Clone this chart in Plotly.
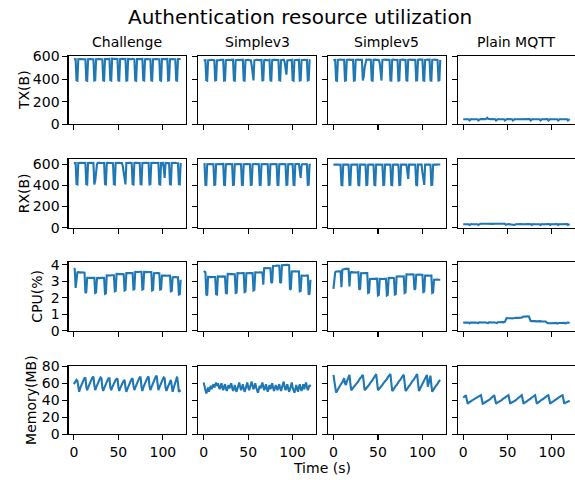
import plotly.graph_objects as go
from plotly.subplots import make_subplots

time_s = list(range(121))
columns = ["Challenge", "Simplev3", "Simplev5", "Plain MQTT"]
metrics = ["TX(B)", "RX(B)", "CPU(%)", "Memory(MB)"]

# ---- TX (bytes) ----
tx_challenge = [575,578,576,390,386,575,577,576,575,578,576,575,577,576,388,385,576,578,575,577,
    576,578,575,387,390,576,578,577,575,578,576,577,575,388,386,577,579,576,578,577,
    579,390,387,580,578,582,579,578,580,577,388,386,578,580,582,579,577,580,578,387,
    389,579,577,580,578,576,579,577,575,388,385,577,579,576,578,577,575,578,390,387,
    576,578,575,577,576,578,575,388,386,576,578,577,575,578,576,577,575,389,386,577,
    579,576,578,577,575,578,387,390,576,578,575,577,576,578,575,388,386,577,579,576,
    578]
tx_simplev3 = [565,570,568,390,386,565,570,568,571,569,567,570,568,388,390,566,569,571,568,570,
    569,567,570,387,389,568,570,569,571,568,570,567,569,571,388,386,568,570,569,571,
    568,570,567,569,571,389,387,568,570,569,571,568,570,567,520,460,388,566,570,568,
    571,569,567,570,568,569,388,390,567,570,568,571,569,567,570,388,386,568,570,569,
    571,568,570,567,569,390,387,568,570,569,571,550,500,440,565,568,570,569,567,570,
    389,386,568,570,569,571,568,570,387,390,567,570,568,571,569,567,570,388,392,567,
    570]
tx_simplev5 = [568,572,570,388,385,569,572,570,573,571,569,572,570,387,389,570,572,571,573,570,
    572,569,571,386,388,570,572,571,573,570,572,569,571,387,420,500,560,572,571,573,
    570,572,569,388,386,570,572,571,573,570,572,569,540,470,387,570,572,571,573,570,
    572,569,571,570,388,386,571,573,570,572,569,571,570,387,389,570,572,571,573,570,
    572,569,388,386,570,572,571,573,570,572,569,571,570,387,389,570,572,571,573,570,
    572,389,387,570,572,571,573,570,572,388,386,570,572,571,573,570,572,569,387,390,
    570]
tx_plain = [45,45,46,45,45,46,45,34,45,46,45,45,46,45,45,46,45,34,45,45,
    46,45,45,46,45,46,50,58,49,46,45,45,46,45,45,46,45,34,45,46,
    45,45,46,45,45,46,45,34,45,45,46,45,45,46,45,45,34,45,46,45,
    45,46,45,45,46,45,45,46,45,46,45,45,46,45,45,46,34,45,46,45,
    45,46,45,45,46,45,45,34,45,46,45,45,46,45,45,46,34,45,46,45,
    45,46,45,45,46,45,45,34,45,46,45,45,46,45,45,46,45,45,34,45,
    46]

# ---- RX (bytes) ----
rx_challenge = [610,613,611,412,408,611,613,612,610,613,611,612,610,613,410,407,611,613,612,610,
    613,611,612,409,440,520,600,612,613,611,612,610,613,611,612,410,408,611,613,612,
    610,613,611,612,610,411,408,611,613,612,610,613,611,612,610,580,520,460,409,612,
    613,611,612,610,613,611,410,407,611,613,612,610,613,611,612,410,408,612,613,611,
    612,610,613,611,612,409,411,611,613,612,610,613,611,612,610,613,410,407,611,613,
    612,560,470,612,613,611,612,610,410,408,611,613,612,610,613,611,612,610,410,408,
    612]
rx_simplev3 = [598,601,405,403,600,602,601,599,602,600,601,599,404,406,600,602,601,599,602,600,
    601,599,602,405,403,600,602,601,599,602,600,601,599,404,406,600,602,601,599,602,
    600,601,599,405,403,600,602,601,599,602,600,601,599,404,406,600,602,601,599,602,
    600,601,599,405,403,600,602,601,599,602,600,601,599,404,406,600,602,601,599,602,
    600,601,599,405,403,600,602,601,599,602,600,601,599,404,406,600,602,601,599,602,
    600,405,403,600,602,601,599,602,540,470,590,601,599,602,600,601,599,404,406,600,
    592]
rx_simplev5 = [596,597,596,595,597,596,597,595,596,404,402,596,597,595,597,596,597,595,403,405,
    596,597,595,597,596,597,595,596,404,402,596,597,595,597,596,597,595,403,405,596,
    597,595,597,596,597,595,404,402,596,597,595,597,596,597,595,596,403,405,596,597,
    595,597,596,597,595,404,402,596,597,595,597,596,597,595,403,405,596,597,595,597,
    596,597,595,540,460,596,597,595,597,596,597,595,596,404,402,596,597,595,597,596,
    520,450,404,596,597,595,597,596,597,595,403,405,596,597,595,597,596,597,595,596,
    597]
rx_plain = [32,33,32,33,32,33,32,25,32,33,32,33,32,33,32,33,32,25,33,35,
    36,35,36,36,35,36,37,36,35,36,36,35,36,36,35,36,37,36,35,36,
    36,35,36,36,35,36,35,36,26,33,32,33,32,33,32,33,32,33,25,32,
    33,32,33,32,33,32,33,32,33,32,33,32,33,32,33,32,33,25,32,33,
    32,33,32,33,32,33,32,25,32,33,32,33,32,33,32,33,32,33,25,32,
    33,32,33,32,33,32,33,25,32,33,32,33,32,33,32,33,32,33,25,32,
    33]

# ---- CPU (%) ----
cpu_challenge = [3.80,3.75,2.60,2.95,3.55,3.56,3.54,3.55,3.53,3.55,3.54,3.52,3.53,2.30,2.35,3.22,3.21,3.23,3.22,3.21,
    3.22,3.20,3.21,3.22,2.30,2.33,3.20,3.21,3.19,3.20,3.21,3.20,3.19,3.20,3.21,2.25,2.28,3.37,3.36,3.38,
    3.37,3.36,3.37,3.38,3.36,3.37,2.40,2.42,3.45,3.44,3.46,3.45,3.44,3.45,3.46,3.45,3.44,2.45,2.48,3.50,
    3.51,3.50,3.52,3.50,3.51,3.50,3.51,2.50,2.52,3.58,3.57,3.59,3.58,3.57,3.58,3.59,3.58,2.50,2.53,3.57,
    3.56,3.58,3.57,3.56,3.57,3.58,3.56,3.57,2.45,2.48,3.50,3.51,3.49,3.50,3.51,3.50,3.49,2.50,2.52,3.35,
    3.36,3.34,3.35,3.36,3.34,3.35,3.36,3.34,3.35,2.40,2.42,3.25,3.26,3.24,3.25,3.26,3.24,3.25,2.20,2.22,
    3.10]
cpu_simplev3 = [3.62,3.60,3.56,2.20,2.15,3.27,3.26,3.28,3.27,3.26,3.27,3.28,3.26,3.27,2.22,2.20,3.30,3.29,3.31,3.30,
    3.29,3.30,3.31,3.30,3.29,2.30,2.28,3.45,3.44,3.46,3.45,3.44,3.45,3.46,3.45,3.44,2.30,2.32,3.50,3.49,
    3.51,3.50,3.49,3.50,3.51,3.50,2.35,2.38,3.50,3.51,3.49,3.50,3.51,3.50,3.49,3.50,2.45,2.48,3.55,3.54,
    3.56,3.55,3.54,3.55,3.56,3.55,3.54,2.80,3.80,3.81,3.79,3.80,3.81,3.80,3.79,3.80,2.90,2.95,3.93,3.95,
    3.94,3.95,3.96,3.95,3.94,3.95,2.90,2.95,3.98,3.99,4.00,3.99,3.98,3.99,4.00,3.99,3.98,2.50,2.55,3.60,
    3.61,3.59,3.60,3.61,3.60,3.59,3.60,3.61,2.40,2.42,3.35,3.34,3.36,3.35,3.34,3.35,3.36,3.35,2.20,2.25,
    3.10]
cpu_simplev5 = [2.55,3.05,3.55,3.60,3.61,3.59,3.60,3.61,3.60,2.65,3.70,3.75,3.74,3.76,3.75,3.74,3.75,3.76,2.70,3.55,
    3.56,3.55,3.54,3.55,3.56,3.55,3.54,3.55,3.56,2.50,2.55,3.50,3.51,3.49,3.50,3.51,3.50,3.49,3.50,2.30,
    2.33,3.15,3.16,3.14,3.15,3.16,3.15,3.14,3.15,3.16,2.15,2.18,3.15,3.14,3.16,3.15,3.14,3.15,3.16,3.15,
    2.15,2.18,3.20,3.21,3.19,3.20,3.21,3.20,3.19,2.20,2.22,3.30,3.31,3.29,3.30,3.31,3.30,3.29,3.30,3.31,
    2.30,2.33,3.43,3.42,3.44,3.43,3.42,3.43,3.44,3.43,3.42,2.50,2.55,3.40,3.41,3.39,3.40,3.41,3.40,3.39,
    3.40,2.35,2.38,3.35,3.36,3.34,3.35,3.36,3.34,3.35,3.36,2.30,2.33,3.10,3.11,3.09,3.10,3.11,3.10,3.09,
    3.10]
cpu_plain = [0.50,0.51,0.50,0.51,0.50,0.51,0.50,0.46,0.51,0.50,0.51,0.50,0.51,0.50,0.51,0.50,0.51,0.47,0.52,0.51,
    0.52,0.51,0.52,0.51,0.52,0.51,0.52,0.51,0.47,0.52,0.51,0.52,0.51,0.52,0.51,0.52,0.51,0.52,0.47,0.52,
    0.53,0.52,0.53,0.52,0.53,0.52,0.53,0.55,0.68,0.78,0.77,0.78,0.77,0.78,0.77,0.76,0.78,0.77,0.78,0.79,
    0.78,0.79,0.80,0.79,0.80,0.78,0.80,0.86,0.87,0.86,0.87,0.88,0.87,0.88,0.87,0.70,0.60,0.59,0.60,0.59,
    0.58,0.59,0.58,0.59,0.58,0.59,0.58,0.59,0.58,0.57,0.58,0.57,0.58,0.57,0.50,0.46,0.47,0.46,0.47,0.48,
    0.47,0.48,0.47,0.48,0.47,0.48,0.44,0.48,0.49,0.48,0.49,0.48,0.49,0.48,0.49,0.45,0.49,0.50,0.49,0.50,
    0.50]

# ---- Memory (MB) ----
mem_challenge = [59,61,62,64,63,55,50,54,57,60,62,64,66,67,56,52,55,58,61,63,
    65,67,68,58,52,55,58,61,63,65,67,66,55,51,54,57,60,62,64,66,
    66,55,52,55,58,60,62,64,65,66,56,51,54,57,59,61,63,64,55,50,
    53,56,59,61,63,65,66,57,52,55,58,61,63,65,67,67,56,51,55,58,
    61,63,65,67,68,57,52,55,58,61,63,66,68,69,58,52,55,58,61,63,
    65,67,66,55,51,54,57,60,62,64,57,50,54,58,62,66,68,60,50,51,
    52]
mem_simplev3 = [61,57,52,48,51,55,50,54,57,53,56,59,55,58,61,57,60,56,53,57,
    60,55,52,56,59,54,51,55,58,54,57,60,55,51,54,58,53,50,54,57,
    61,56,52,55,59,54,50,53,57,61,56,52,55,58,62,57,53,56,60,55,
    51,49,53,57,54,58,61,56,52,55,59,54,50,54,58,53,56,60,55,51,
    54,58,55,52,56,59,54,51,55,58,62,56,52,55,59,54,50,53,57,61,
    55,51,49,53,58,54,50,55,59,54,51,55,59,53,56,61,56,52,55,58,
    56]
mem_simplev5 = [70,64,56,49,51,53,55,57,58,60,61,63,66,60,58,62,65,67,70,60,
    52,53,55,56,57,59,60,61,63,64,66,67,69,70,62,52,53,54,56,57,
    58,60,61,63,64,66,67,69,71,62,52,53,54,56,57,58,60,61,62,64,
    65,67,68,70,71,61,51,52,54,55,57,58,60,61,63,64,66,67,69,70,
    61,51,52,54,55,57,58,60,61,63,64,66,67,69,71,61,51,53,55,57,
    59,61,63,65,67,70,56,60,65,69,58,50,52,54,56,57,58,60,61,63,
    64]
mem_plain = [43,44,45,46,41,36,37,38,38.5,39,40,40.5,41,42,42.5,43,43.5,44,45,45.5,
    46,41,36,36.5,37,38,38.5,39,40,40.5,41,42,43,44,45,46,41,36,37,37.5,
    38,39,39.5,40,41,41.5,42,43,44,44.5,45,46,41,36,37,37.5,38,39,39.5,40,
    41,42,43,44,44.5,45,46,41,36,37,37.5,38,39,40,40.5,41,42,43,44,44.5,
    45,46,41,36,37,38,38.5,39,40,41,41.5,42,43,44,45,45.5,46,41,36,37,
    37.5,38,39,40,40.5,41,42,43,44,44.5,45,45.5,46,41,36,37,37.5,38,38.5,39,
    39.5]

grid = [
    [tx_challenge, tx_simplev3, tx_simplev5, tx_plain],
    [rx_challenge, rx_simplev3, rx_simplev5, rx_plain],
    [cpu_challenge, cpu_simplev3, cpu_simplev5, cpu_plain],
    [mem_challenge, mem_simplev3, mem_simplev5, mem_plain],
]
y_ranges = [[0, 606], [0, 648], [0, 4.15], [0, 80.8]]
y_ticks = [[0, 200, 400, 600], [0, 200, 400, 600], [0, 1, 2, 3, 4], [0, 20, 40, 60, 80]]
x_ticks = [0, 50, 100]

W, H = 575, 480
col_left = [68.5, 198.3, 328.1, 457.9]
col_w = 117.5
row_top = [55.8, 159.1, 262.4, 365.7]
row_h = 68.5

FONT = "DejaVu Sans"
LINE_BLUE = "#1f77b4"


def px(x):
    return x / W


def py(y):
    return 1 - y / H


fig = make_subplots(rows=4, cols=4)

for r in range(4):
    for c in range(4):
        fig.add_trace(go.Scatter(x=time_s, y=grid[r][c], mode="lines",
                                 line=dict(color=LINE_BLUE, width=2.1),
                                 showlegend=False, hoverinfo="skip"),
                      row=r + 1, col=c + 1)

for r in range(4):
    for c in range(4):
        n = r * 4 + c + 1
        sx = "" if n == 1 else str(n)
        x0 = px(col_left[c])
        x1 = min(1.0, px(col_left[c] + col_w))
        y1 = py(row_top[r])
        y0 = py(row_top[r] + row_h)
        axis_common = dict(showline=True, linecolor="black", linewidth=1.1, mirror=True,
                           showgrid=False, zeroline=False, ticks="outside", ticklen=5,
                           tickwidth=1.1, tickcolor="black",
                           tickfont=dict(family=FONT, size=14, color="black"),
                           automargin=False, fixedrange=True)
        fig.layout["xaxis" + sx].update(domain=[x0, x1], range=[-6, 126],
                                        tickmode="array", tickvals=x_ticks,
                                        showticklabels=(r == 3), **axis_common)
        fig.layout["yaxis" + sx].update(domain=[y0, y1], range=y_ranges[r],
                                        tickmode="array", tickvals=y_ticks[r],
                                        showticklabels=(c == 0), **axis_common)

annotations = []
annotations.append(dict(text="Authentication resource utilization", x=px(300), y=py(17),
                        xref="paper", yref="paper", xanchor="center", yanchor="middle",
                        showarrow=False, font=dict(family=FONT, size=20, color="black")))
for c, name in enumerate(columns):
    annotations.append(dict(text=name, x=px(col_left[c] + col_w / 2), y=py(42),
                            xref="paper", yref="paper", xanchor="center", yanchor="middle",
                            showarrow=False, font=dict(family=FONT, size=14, color="black")))
ylab_x = [24, 24, 37, 31]
for r, name in enumerate(metrics):
    annotations.append(dict(text=name, x=px(ylab_x[r]), y=py(row_top[r] + row_h / 2),
                            xref="paper", yref="paper", xanchor="center", yanchor="middle",
                            textangle=-90, showarrow=False,
                            font=dict(family=FONT, size=14, color="black")))
annotations.append(dict(text="Time (s)", x=px(322), y=py(467.5),
                        xref="paper", yref="paper", xanchor="center", yanchor="middle",
                        showarrow=False, font=dict(family=FONT, size=14, color="black")))

fig.update_layout(width=W, height=H, margin=dict(l=0, r=0, t=0, b=0),
                  paper_bgcolor="white", plot_bgcolor="white",
                  annotations=annotations, showlegend=False)

fig.write_html("out.html", config={"displayModeBar": False, "staticPlot": True},
               post_script="document.body.style.margin='0';document.body.style.padding='0';"
                           "document.body.style.overflow='hidden';")
